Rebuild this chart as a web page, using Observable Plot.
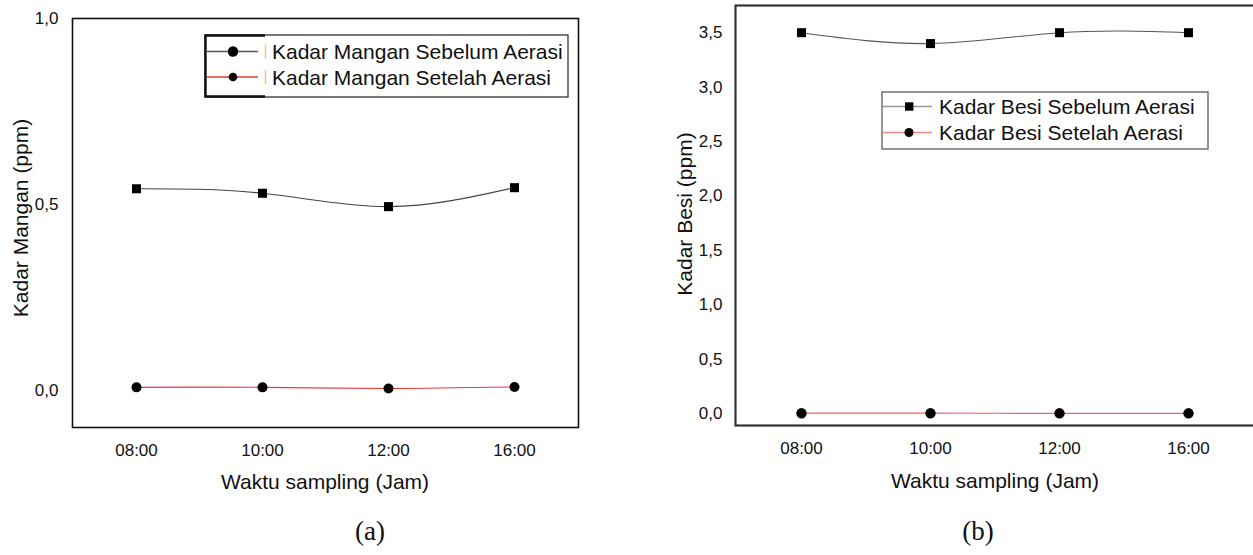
<!DOCTYPE html>
<html>
<head>
<meta charset="utf-8">
<script src="https://cdn.jsdelivr.net/npm/d3@7"></script>
<script src="https://cdn.jsdelivr.net/npm/@observablehq/plot@0.6"></script>
<style>
  html, body { margin: 0; padding: 0; background: #fff; overflow: hidden; width: 1253px; height: 555px; }
  #wrap { position: relative; width: 1253px; height: 555px; overflow: hidden; font-family: "Liberation Sans", Arial, sans-serif; }
  .panel { position: absolute; top: 0; }
  .panel svg { max-width: none !important; display: block; }
  #overlay { position: absolute; left: 0; top: 0; pointer-events: none; }
</style>
</head>
<body>
<div id="wrap">
  <div id="left" class="panel" style="left:0px;width:626px;height:500px"></div>
  <div id="right" class="panel" style="left:626px;width:640px;height:500px"></div>
  <svg id="overlay" width="1253" height="555"></svg>
</div>
<script>
// ---- data ----
const times = ["08:00", "10:00", "12:00", "16:00"];
const manganSebelum = [0.542, 0.530, 0.494, 0.545];
const manganSetelah = [0.008, 0.008, 0.005, 0.009];
const besiSebelum = [3.50, 3.40, 3.50, 3.50];
const besiSetelah = [0.003, 0.003, 0.002, 0.002];
const manganTicks = [0, 0.5, 1.0];
const besiTicks = [0, 0.5, 1.0, 1.5, 2.0, 2.5, 3.0, 3.5];
const manganLegend = ["Kadar Mangan Sebelum Aerasi", "Kadar Mangan Setelah Aerasi"];
const besiLegend = ["Kadar Besi Sebelum Aerasi", "Kadar Besi Setelah Aerasi"];
const xTitle = "Waktu sampling (Jam)";
const yTitleA = "Kadar Mangan (ppm)";
const yTitleB = "Kadar Besi (ppm)";
const captions = ["(a)", "(b)"];

const rows = (vals) => times.map((t, i) => ({t, v: vals[i]}));
const fmt = d => d.toFixed(1).replace(".", ",");
const font = '"Liberation Sans", Arial, sans-serif';

// ---- left chart (Mangan) ----
const left = Plot.plot({
  width: 626, height: 500,
  marginLeft: 72, marginRight: 48, marginTop: 18, marginBottom: 73,
  style: {fontFamily: font, fontSize: "17px", background: "transparent", color: "#111", maxWidth: "none"},
  x: {type: "point", domain: times, padding: 0.5, label: null},
  y: {domain: [-0.1, 1.0], label: null},
  marks: [
    Plot.axisX({tickSize: 0, tickPadding: 16, label: null}),
    Plot.axisY({ticks: manganTicks, tickFormat: fmt, tickSize: 0, tickPadding: 14, label: null}),
    Plot.line(rows(manganSebelum), {x: "t", y: "v", curve: "natural", stroke: "#444", strokeWidth: 1.1}),
    Plot.line(rows(manganSetelah), {x: "t", y: "v", curve: "natural", stroke: "#e8383d", strokeWidth: 1.1}),
    Plot.dot(rows(manganSebelum), {x: "t", y: "v", symbol: "square", r: 5.1, fill: "#000"}),
    Plot.dot(rows(manganSetelah), {x: "t", y: "v", symbol: "circle", r: 5, fill: "#000"}),
    Plot.frame({stroke: "#111", strokeWidth: 1.6})
  ]
});
document.getElementById("left").appendChild(left);

// ---- right chart (Besi) ----
const right = Plot.plot({
  width: 640, height: 500,
  marginLeft: 109, marginRight: 12, marginTop: 5, marginBottom: 75,
  style: {fontFamily: font, fontSize: "17px", background: "transparent", color: "#111", maxWidth: "none"},
  x: {type: "point", domain: times, padding: 0.5, label: null},
  y: {domain: [-0.11, 3.75], label: null},
  marks: [
    Plot.axisX({tickSize: 0, tickPadding: 16, label: null}),
    Plot.axisY({ticks: besiTicks, tickFormat: fmt, tickSize: 0, tickPadding: 13, label: null}),
    Plot.line(rows(besiSebelum), {x: "t", y: "v", curve: "natural", stroke: "#555", strokeWidth: 1.1}),
    Plot.line(rows(besiSetelah), {x: "t", y: "v", curve: "natural", stroke: "#f06464", strokeWidth: 1.2}),
    Plot.dot(rows(besiSebelum), {x: "t", y: "v", symbol: "square", r: 5.1, fill: "#000"}),
    Plot.dot(rows(besiSetelah), {x: "t", y: "v", symbol: "circle", r: 5.2, fill: "#000"}),
    Plot.frame({stroke: "#333", strokeWidth: 2.2})
  ]
});
document.getElementById("right").appendChild(right);

// ---- overlay: titles, captions, legends ----
const ov = d3.select("#overlay");
const txt = (x, y, s, opts = {}) => ov.append("text")
  .attr("x", x).attr("y", y).text(s)
  .attr("font-family", opts.family || font)
  .attr("font-size", opts.size || 21)
  .attr("fill", "#111")
  .attr("text-anchor", opts.anchor || "middle")
  .attr("dominant-baseline", "central")
  .attr("transform", opts.rotate ? `rotate(-90 ${x} ${y})` : null);

txt(20, 218, yTitleA, {rotate: true});
txt(325, 481, xTitle);
txt(684, 214, yTitleB, {rotate: true});
txt(995, 480, xTitle);
txt(370, 531, captions[0], {family: '"Liberation Serif", "Times New Roman", serif', size: 27});
txt(978, 531, captions[1], {family: '"Liberation Serif", "Times New Roman", serif', size: 27});

// legend (a)
const la = ov.append("g");
la.append("rect").attr("x", 205).attr("y", 35).attr("width", 363).attr("height", 62)
  .attr("fill", "#fff").attr("stroke", "#222").attr("stroke-width", 1.2);
la.append("path").attr("d", "M265,35.5 H205.5 V96.5 H265").attr("fill", "none").attr("stroke", "#111").attr("stroke-width", 2.4);
const aRows = [{y: 51.5, c: "#555", r: 5.2}, {y: 77, c: "#e8383d", r: 4.3}];
aRows.forEach((row, i) => {
  la.append("line").attr("x1", 207).attr("x2", 258).attr("y1", row.y).attr("y2", row.y).attr("stroke", row.c).attr("stroke-width", 1.3);
  la.append("circle").attr("cx", 233).attr("cy", row.y).attr("r", row.r).attr("fill", "#000");
  la.append("line").attr("x1", 265.5).attr("x2", 265.5).attr("y1", row.y - 7).attr("y2", row.y + 7).attr("stroke", "#f6c67a").attr("stroke-width", 1.5);
  txt(272, row.y, manganLegend[i], {anchor: "start"});
});

// legend (b)
const lb = ov.append("g");
lb.append("rect").attr("x", 882).attr("y", 92).attr("width", 326).attr("height", 57)
  .attr("fill", "#fff").attr("stroke", "#666").attr("stroke-width", 1.4);
const bRows = [{y: 106.5, c: "#999", sym: "square"}, {y: 132.5, c: "#f58a8a", sym: "circle"}];
bRows.forEach((row, i) => {
  lb.append("line").attr("x1", 883).attr("x2", 932).attr("y1", row.y).attr("y2", row.y).attr("stroke", row.c).attr("stroke-width", 1.3);
  if (row.sym === "square") lb.append("rect").attr("x", 905).attr("y", row.y - 4.2).attr("width", 8.4).attr("height", 8.4).attr("fill", "#000");
  else lb.append("circle").attr("cx", 909).attr("cy", row.y).attr("r", 4.5).attr("fill", "#000");
  txt(939, row.y, besiLegend[i], {anchor: "start"});
});
</script>
</body>
</html>
